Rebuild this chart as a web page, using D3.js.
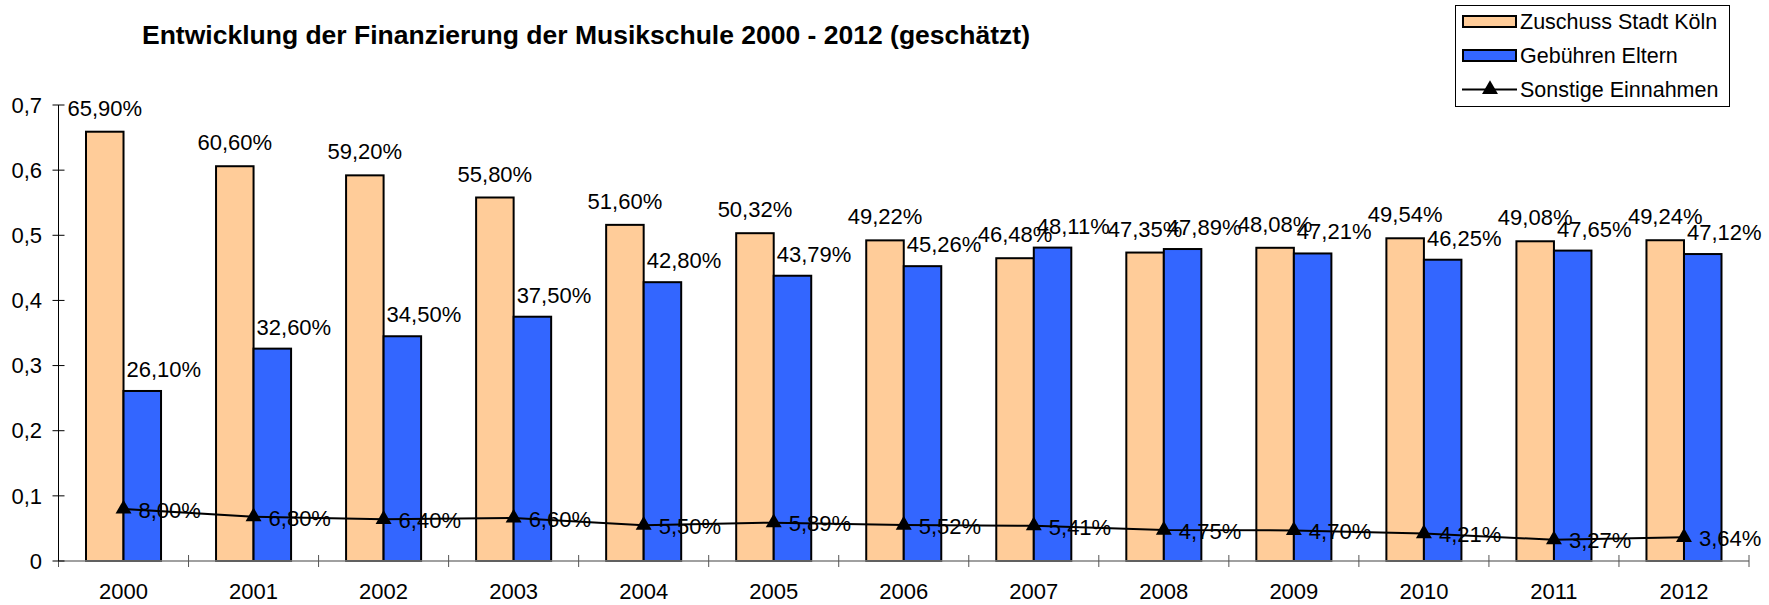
<!DOCTYPE html>
<html>
<head>
<meta charset="utf-8">
<script src="https://cdn.jsdelivr.net/npm/d3@7"></script>
<style>
  body { margin: 0; background: #fff; }
  svg { display: block; font-family: "Liberation Sans", Arial, sans-serif; }
</style>
</head>
<body>
<div id="chart"></div>
<script>
const years = ['2000', '2001', '2002', '2003', '2004', '2005', '2006', '2007', '2008', '2009', '2010', '2011', '2012'];
const zuschuss = [0.659, 0.606, 0.592, 0.558, 0.516, 0.5032, 0.4922, 0.4648, 0.4735, 0.4808, 0.4954, 0.4908, 0.4924];
const gebuehren = [0.261, 0.326, 0.345, 0.375, 0.428, 0.4379, 0.4526, 0.4811, 0.4789, 0.4721, 0.4625, 0.4765, 0.4712];
const sonstige = [0.08, 0.068, 0.064, 0.066, 0.055, 0.0589, 0.0552, 0.0541, 0.0475, 0.047, 0.0421, 0.0327, 0.0364];
const yTicks = [0, 0.1, 0.2, 0.3, 0.4, 0.5, 0.6, 0.7];
const seriesNames = ['Zuschuss Stadt Köln', 'Gebühren Eltern', 'Sonstige Einnahmen'];

const width = 1769, height = 605;
const fs = 22;
const svg = d3.select('#chart').append('svg')
    .attr('width', width)
    .attr('height', height);

const x = d3.scaleBand().domain(years).range([58.5, 1749]);
const xSub = d3.scaleBand().domain(['z', 'g']).range([0, x.bandwidth()]).paddingOuter(0.733);
const y = d3.scaleLinear().domain([0, 0.7]).range([561, 105]);

const fmtPct = v => d3.format('.2f')(v * 100).replace('.', ',') + '%';
const fmtTick = v => v === 0 ? '0' : d3.format('.1f')(v).replace('.', ',');

// title
svg.append('text')
    .attr('x', 142).attr('y', 44)
    .attr('font-size', 26.5).attr('font-weight', 'bold')
    .text('Entwicklung der Finanzierung der Musikschule 2000 - 2012 (geschätzt)');

// bars
const groups = svg.append('g').selectAll('g')
    .data(years)
    .join('g')
    .attr('transform', d => `translate(${x(d)},0)`);

groups.append('rect')
    .attr('x', xSub('z'))
    .attr('y', (d, i) => y(zuschuss[i]))
    .attr('width', xSub.bandwidth())
    .attr('height', (d, i) => y(0) - y(zuschuss[i]))
    .attr('fill', '#FFCC99')
    .attr('stroke', '#000').attr('stroke-width', 2);

groups.append('rect')
    .attr('x', xSub('g'))
    .attr('y', (d, i) => y(gebuehren[i]))
    .attr('width', xSub.bandwidth())
    .attr('height', (d, i) => y(0) - y(gebuehren[i]))
    .attr('fill', '#3366FF')
    .attr('stroke', '#000').attr('stroke-width', 2);

// x axis
const xAxis = svg.append('g');
xAxis.append('line')
    .attr('x1', x.range()[0]).attr('x2', x.range()[1])
    .attr('y1', y(0)).attr('y2', y(0))
    .attr('stroke', '#808080').attr('stroke-width', 1.5);
xAxis.selectAll('.xt')
    .data(years.concat(['end']))
    .join('line')
    .attr('x1', (d, i) => x.range()[0] + i * x.step())
    .attr('x2', (d, i) => x.range()[0] + i * x.step())
    .attr('y1', y(0) - 6).attr('y2', y(0) + 6)
    .attr('stroke', '#555').attr('stroke-width', 1);
xAxis.selectAll('text')
    .data(years)
    .join('text')
    .attr('x', d => x(d) + x.bandwidth() / 2)
    .attr('y', 599)
    .attr('text-anchor', 'middle')
    .attr('font-size', fs)
    .text(d => d);

// y axis
const yAxis = svg.append('g');
yAxis.append('line')
    .attr('x1', 58.5).attr('x2', 58.5)
    .attr('y1', y(0.7)).attr('y2', y(0))
    .attr('stroke', '#000').attr('stroke-width', 1);
yAxis.selectAll('line.t')
    .data(yTicks)
    .join('line')
    .attr('class', 't')
    .attr('x1', 52.5).attr('x2', 64.5)
    .attr('y1', d => y(d)).attr('y2', d => y(d))
    .attr('stroke', '#000');
yAxis.selectAll('text')
    .data(yTicks)
    .join('text')
    .attr('x', 42)
    .attr('y', d => y(d))
    .attr('dy', '0.35em')
    .attr('text-anchor', 'end')
    .attr('font-size', fs)
    .text(fmtTick);

// bar labels (blue ones start at the bar's left edge, like the original)
groups.append('text')
    .attr('x', xSub('z') + xSub.bandwidth() / 2)
    .attr('y', (d, i) => y(zuschuss[i]) - 16)
    .attr('text-anchor', 'middle')
    .attr('font-size', fs)
    .text((d, i) => fmtPct(zuschuss[i]));

groups.append('text')
    .attr('x', xSub('g') + 3)
    .attr('y', (d, i) => y(gebuehren[i]) - 14)
    .attr('font-size', fs)
    .text((d, i) => fmtPct(gebuehren[i]));

// line series
const lineX = d => x(d) + x.bandwidth() / 2;
const line = d3.line()
    .x(d => lineX(d))
    .y((d, i) => y(sonstige[i]));
svg.append('path')
    .datum(years)
    .attr('d', line)
    .attr('fill', 'none')
    .attr('stroke', '#000')
    .attr('stroke-width', 2);

const tri = d3.symbol().type(d3.symbolTriangle).size(110);
svg.append('g').selectAll('path')
    .data(years)
    .join('path')
    .attr('d', tri)
    .attr('transform', (d, i) => `translate(${lineX(d)},${y(sonstige[i])})`)
    .attr('fill', '#000');

svg.append('g').selectAll('text')
    .data(years)
    .join('text')
    .attr('x', d => lineX(d) + 15)
    .attr('y', (d, i) => y(sonstige[i]))
    .attr('dy', '0.4em')
    .attr('font-size', fs)
    .text((d, i) => fmtPct(sonstige[i]));

// legend
const legend = svg.append('g');
legend.append('rect')
    .attr('x', 1455.5).attr('y', 5.5)
    .attr('width', 274).attr('height', 101)
    .attr('fill', '#fff').attr('stroke', '#000').attr('stroke-width', 1);

const legendColors = ['#FFCC99', '#3366FF'];
const rowY = [21.5, 55.5, 89.5];
seriesNames.forEach((name, i) => {
    if (i < 2) {
        legend.append('rect')
            .attr('x', 1463).attr('y', rowY[i] - 5.5)
            .attr('width', 53).attr('height', 11)
            .attr('fill', legendColors[i])
            .attr('stroke', '#000').attr('stroke-width', 2);
    } else {
        legend.append('line')
            .attr('x1', 1462).attr('x2', 1517)
            .attr('y1', rowY[i]).attr('y2', rowY[i])
            .attr('stroke', '#000').attr('stroke-width', 2);
        legend.append('path')
            .attr('d', tri)
            .attr('transform', `translate(1490,${rowY[i]})`)
            .attr('fill', '#000');
    }
    legend.append('text')
        .attr('x', 1520).attr('y', rowY[i])
        .attr('dy', '0.35em')
        .attr('font-size', 21.5)
        .text(name);
});
</script>
</body>
</html>
